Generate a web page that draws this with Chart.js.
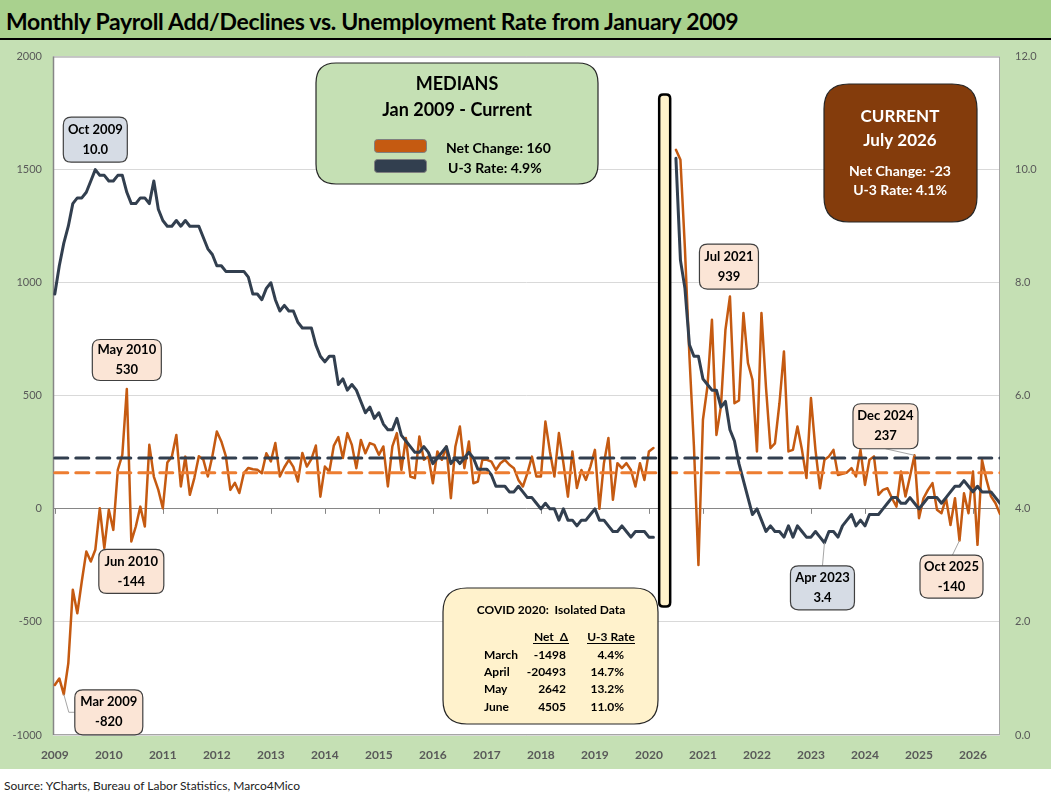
<!DOCTYPE html>
<html>
<head>
<meta charset="utf-8">
<title>Monthly Payroll Add/Declines vs. Unemployment Rate</title>
<script src="https://cdn.jsdelivr.net/npm/chart.js@4.4.1/dist/chart.umd.min.js"></script>
<style>
  body { margin: 0; width: 1051px; height: 798px; background: #fff; overflow: hidden; font-family: Lato, sans-serif; }
  #title { height: 38px; background: #a9d18e; border-bottom: 2px solid #000; font: bold 23px Lato, sans-serif; letter-spacing: -0.3px; line-height: 42px; padding-left: 6px; color: #000; white-space: nowrap; }
  #wrap { position: relative; width: 1051px; height: 729px; background: #c5e0b4; overflow: hidden; }
  #payrollChart { position: absolute; left: 0; top: -5px; }
  #source { font: 12px Lato, sans-serif; padding: 9px 0 0 4px; color: #222; }
</style>
</head>
<body>
<div id="title">Monthly Payroll Add/Declines vs. Unemployment Rate from January 2009</div>
<div id="wrap"><canvas id="payrollChart" width="1051" height="734"></canvas></div>
<div id="source">Source: YCharts, Bureau of Labor Statistics, Marco4Mico</div>

<script>
// month index 0 = Jan 2009; Mar-Jun 2020 left out (isolated in the COVID table)
const MONTHS = ['Jan', 'Feb', 'Mar', 'Apr', 'May', 'Jun', 'Jul', 'Aug', 'Sep', 'Oct', 'Nov', 'Dec'];
const START_YEAR = 2009;
const YEAR_LABELS = ['2009', '2010', '2011', '2012', '2013', '2014', '2015', '2016', '2017',
                     '2018', '2019', '2020', '2021', '2022', '2023', '2024', '2025', '2026'];

// monthly payroll change (thousands), left axis
const NET_CHANGE = [
  -779, -750, -820, -683, -358, -462, -320, -189, -233, -181, 3, -174,   // 2009
  -4, -93, 173, 239, 530, -144, -78, 10, -78, 283, 143, 84,              // 2010
  3, 205, 231, 327, 99, 231, 62, 136, 233, 218, 143, 233,                // 2011
  342, 298, 233, 84, 115, 70, 158, 181, 175, 173, 158, 246,              // 2012
  210, 291, 143, 184, 217, 186, 121, 247, 187, 220, 280, 54,             // 2013
  187, 165, 280, 317, 225, 335, 283, 180, 305, 246, 291, 283,            // 2014
  239, 276, 99, 276, 335, 172, 313, 143, 136, 320, 217, 231,             // 2015
  113, 254, 217, 276, 47, 276, 364, 180, 298, 113, 121, 217,             // 2016
  217, 209, 172, 202, 217, 195, 180, 128, 99, 158, 231, 143,             // 2017
  143, 386, 254, 143, 335, 202, 54, 254, 92, 172, 128, 187,              // 2018
  261, 0, 202, 313, 40, 202, 180, 202, 172, 99, 202, 128,                // 2019
  254, 269, null, null, null, null, 1588, 1544, 1150, 674, 276, -248,    // 2020
  394, 541, 836, 327, 453, 792, 939, 467, 479, 866, 645, 571,            // 2021
  254, 866, 540, 268, 290, 467, 696, 254, 261, 364, 261, 136,            // 2022
  490, 261, 91, 217, 232, 261, 150, 155, 161, 180, 143, 261,             // 2023
  106, 217, 232, 62, 84, 91, 47, 10, 165, 55, 143, 237,                  // 2024
  -41, 47, 84, 114, -4, -19, 47, -71, 47, -140, 69, -19,                 // 2025
  165, -159, 217, 128, 55, 25, -23                                       // 2026
];

// U-3 unemployment rate (%), right axis
const U3_RATE = [
  7.8, 8.3, 8.7, 9.0, 9.4, 9.5, 9.5, 9.6, 9.8, 10.0, 9.9, 9.9,
  9.8, 9.8, 9.9, 9.9, 9.6, 9.4, 9.4, 9.5, 9.5, 9.4, 9.8, 9.3,
  9.1, 9.0, 9.0, 9.1, 9.0, 9.1, 9.0, 9.0, 9.0, 8.8, 8.6, 8.5,
  8.3, 8.3, 8.2, 8.2, 8.2, 8.2, 8.2, 8.1, 7.8, 7.8, 7.7, 7.9,
  8.0, 7.7, 7.5, 7.6, 7.5, 7.5, 7.3, 7.2, 7.2, 7.2, 6.9, 6.7,
  6.6, 6.7, 6.7, 6.2, 6.3, 6.1, 6.2, 6.1, 5.9, 5.7, 5.8, 5.6,
  5.7, 5.5, 5.4, 5.4, 5.6, 5.3, 5.2, 5.1, 5.0, 5.0, 5.1, 5.0,
  4.8, 4.9, 5.0, 5.1, 4.8, 4.9, 4.8, 4.9, 5.0, 4.9, 4.7, 4.7,
  4.7, 4.6, 4.4, 4.4, 4.4, 4.3, 4.3, 4.4, 4.3, 4.2, 4.2, 4.1,
  4.0, 4.1, 4.0, 4.0, 3.8, 4.0, 3.8, 3.8, 3.7, 3.8, 3.8, 3.9,
  4.0, 3.8, 3.8, 3.7, 3.6, 3.6, 3.7, 3.6, 3.5, 3.6, 3.6, 3.6,
  3.5, 3.5, null, null, null, null, 10.2, 8.4, 7.9, 6.9, 6.7, 6.7,
  6.3, 6.2, 6.1, 6.1, 5.8, 5.9, 5.4, 5.2, 4.8, 4.5, 4.2, 3.9,
  4.0, 3.8, 3.6, 3.7, 3.6, 3.6, 3.5, 3.7, 3.5, 3.7, 3.6, 3.5,
  3.5, 3.6, 3.5, 3.4, 3.6, 3.6, 3.5, 3.7, 3.8, 3.9, 3.7, 3.8,
  3.7, 3.9, 3.9, 3.9, 4.0, 4.1, 4.2, 4.2, 4.1, 4.1, 4.2, 4.1,
  4.0, 4.1, 4.2, 4.2, 4.2, 4.1, 4.2, 4.3, 4.4, 4.4, 4.5, 4.4,
  4.3, 4.4, 4.3, 4.3, 4.3, 4.2, 4.1
];

const NET_MEDIAN = 160;
const U3_MEDIAN = 4.9;

const LEFT_TICKS = [-1000, -500, 0, 500, 1000, 1500, 2000];
const RIGHT_TICKS = [0, 2, 4, 6, 8, 10, 12];

const COVID_MONTHS = ['March', 'April', 'May', 'June'];
const COVID_NET = [-1498, -20493, 2642, 4505];
const COVID_U3 = [4.4, 14.7, 13.2, 11.0];

const ORANGE = '#c55a11';
const NAVY = '#323f4f';
const AXIS_TEXT = '#595959';
const SHIFT_Y = 5; // canvas sits 5px above the green panel

function monthName(i) {
    return MONTHS[i % 12] + ' ' + (START_YEAR + Math.floor(i / 12));
}

function toPoints(arr) {
    return arr.map((v, i) => ({ x: i, y: v }));
}

const lastIdx = NET_CHANGE.length - 1;

// labelled points: which series, and where the box sits relative to the point
const CALLOUTS = [
    { idx: 9,   series: 'u3',  dx: 0,    dy: -30, w: 64, h: 45 },
    { idx: 16,  series: 'net', dx: 0,    dy: -29, w: 69, h: 41 },
    { idx: 17,  series: 'net', dx: 0,    dy: 30,  w: 65, h: 44 },
    { idx: 2,   series: 'net', dx: 45,   dy: 18,  w: 68, h: 45, leader: [[-40, 0], [-34, 0]] },
    { idx: 150, series: 'net', dx: -1,   dy: -30, w: 59, h: 45 },
    { idx: 191, series: 'net', dx: -29,  dy: -29, w: 65, h: 45, leader: [[0, 22.5]] },
    { idx: 171, series: 'u3',  dx: -2,   dy: 45,  w: 64, h: 44, leader: [[0, -22]] },
    { idx: 201, series: 'net', dx: -8,   dy: 36,  w: 63, h: 43, leader: [[1, -21.5]] }
];

function roundRect(c, x, y, w, h, r) {
    c.beginPath();
    c.moveTo(x + r, y);
    c.lineTo(x + w - r, y);
    c.quadraticCurveTo(x + w, y, x + w, y + r);
    c.lineTo(x + w, y + h - r);
    c.quadraticCurveTo(x + w, y + h, x + w - r, y + h);
    c.lineTo(x + r, y + h);
    c.quadraticCurveTo(x, y + h, x, y + h - r);
    c.lineTo(x, y + r);
    c.quadraticCurveTo(x, y, x + r, y);
    c.closePath();
}

function box(c, x, y, w, h, r, fill, stroke, lw) {
    roundRect(c, x, y, w, h, r);
    c.fillStyle = fill;
    c.fill();
    c.lineWidth = lw || 1;
    c.strokeStyle = stroke;
    c.stroke();
}

function text(c, s, x, y, font, color, align) {
    c.font = font;
    c.fillStyle = color;
    c.textAlign = align || 'center';
    c.textBaseline = 'middle';
    c.fillText(s, x, y);
}

// white plot area, frame and small year ticks on the zero line
const plotFrame = {
    id: 'plotFrame',
    beforeDraw(chart) {
        const a = chart.chartArea, c = chart.ctx;
        c.save();
        c.fillStyle = '#ffffff';
        c.fillRect(a.left, a.top, a.right - a.left, a.bottom - a.top);
        c.restore();
    },
    beforeDatasetsDraw(chart) {
        const a = chart.chartArea, c = chart.ctx;
        const x = chart.scales.x, y0 = chart.scales.y.getPixelForValue(0);
        c.save();
        c.strokeStyle = '#868686';
        c.lineWidth = 1;
        YEAR_LABELS.forEach((_, i) => {
            const px = Math.round(x.getPixelForValue(i * 12)) + 0.5;
            c.beginPath();
            c.moveTo(px, y0);
            c.lineTo(px, y0 + 5);
            c.stroke();
        });
        c.strokeStyle = '#a6a6a6';
        c.strokeRect(a.left + 0.5, a.top + 0.5, a.right - a.left - 1, a.bottom - a.top - 1);
        c.strokeStyle = '#868686';
        c.lineWidth = 1.5;
        c.beginPath();
        c.moveTo(a.left + 0.5, a.top);
        c.lineTo(a.left + 0.5, a.bottom);
        c.stroke();
        c.restore();
    }
};

// boxes, covid band and callouts
const overlays = {
    id: 'overlays',
    afterDraw(chart) {
        const c = chart.ctx, a = chart.chartArea;
        const x = chart.scales.x, y = chart.scales.y, y2 = chart.scales.y2;
        c.save();

        // covid gap band
        const gap = [];
        NET_CHANGE.forEach((v, i) => { if (v === null) gap.push(i); });
        const bx = x.getPixelForValue((gap[0] + gap[gap.length - 1]) / 2);
        box(c, bx - 5.5, a.top + 38, 11, 512, 4, '#fff2cc', '#000', 2.5);

        // callouts
        CALLOUTS.forEach(cl => {
            const isU3 = cl.series === 'u3';
            const val = isU3 ? U3_RATE[cl.idx] : NET_CHANGE[cl.idx];
            const px = x.getPixelForValue(cl.idx);
            const py = isU3 ? y2.getPixelForValue(val) : y.getPixelForValue(val);
            const cx = px + cl.dx, cy = py + cl.dy;
            if (cl.leader) {
                c.strokeStyle = '#a6a6a6';
                c.lineWidth = 1;
                c.beginPath();
                c.moveTo(px, py);
                cl.leader.forEach(p => c.lineTo(cx + p[0], cy + p[1]));
                c.stroke();
            }
            box(c, cx - cl.w / 2, cy - cl.h / 2, cl.w, cl.h, 8,
                isU3 ? '#d6dce5' : '#fbe5d6', '#404040', 1.2);
            text(c, monthName(cl.idx), cx, cy - 10, 'bold 13px Lato', '#000');
            text(c, isU3 ? val.toFixed(1) : String(val), cx, cy + 10, 'bold 13px Lato', '#000');
        });

        // fixed boxes are placed in panel coordinates
        c.translate(0, SHIFT_Y);

        // medians box
        box(c, 316, 23, 282, 121, 20, '#c5e0b4', '#262626', 1.2);
        text(c, 'MEDIANS', 457, 44, 'bold 18px Lato', '#000');
        text(c, 'Jan 2009 - Current', 457, 70, 'bold 18px Lato', '#000');
        box(c, 374.5, 99.5, 52, 13, 3, ORANGE, '#7f7f7f', 1);
        box(c, 374.5, 119.5, 52, 13, 3, NAVY, '#7f7f7f', 1);
        text(c, 'Net Change: ' + NET_MEDIAN, 446, 108, 'bold 14px Lato', '#000', 'left');
        text(c, 'U-3 Rate: ' + U3_MEDIAN.toFixed(1) + '%', 448, 128, 'bold 14px Lato', '#000', 'left');

        // current box
        box(c, 824, 44, 153, 138, 25, '#843c0c', '#262626', 1.2);
        text(c, 'CURRENT', 900, 77, 'bold 17px Lato', '#fff');
        text(c, 'July 2026', 900, 101, 'bold 17px Lato', '#fff');
        text(c, 'Net Change: ' + NET_CHANGE[lastIdx], 900, 131, 'bold 14px Lato', '#fff');
        text(c, 'U-3 Rate: ' + U3_RATE[lastIdx].toFixed(1) + '%', 900, 150, 'bold 14px Lato', '#fff');

        // covid table
        box(c, 443, 548, 215, 136, 24, '#fff2cc', '#262626', 1.2);
        text(c, 'COVID 2020:  Isolated Data', 551, 570, 'bold 12px Lato', '#000');
        const hf = 'bold 12px Lato';
        text(c, 'Net  \u0394', 551, 597, hf, '#000');
        text(c, 'U-3 Rate', 611, 597, hf, '#000');
        c.strokeStyle = '#000';
        c.lineWidth = 1;
        c.beginPath();
        c.moveTo(533, 603.5); c.lineTo(569, 603.5);
        c.moveTo(587, 603.5); c.lineTo(635, 603.5);
        c.stroke();
        COVID_MONTHS.forEach((m, i) => {
            const ry = 615 + i * 17.3;
            text(c, m, 484, ry, hf, '#000', 'left');
            text(c, String(COVID_NET[i]), 566, ry, hf, '#000', 'right');
            text(c, COVID_U3[i].toFixed(1) + '%', 624, ry, hf, '#000', 'right');
        });

        c.restore();
    }
};

function createPayrollChart() {
    const ctx = document.getElementById('payrollChart').getContext('2d');
    const chart = new Chart(ctx, {
        type: 'line',
        data: {
            datasets: [
                {
                    label: 'U-3 Median',
                    data: [{ x: 0, y: U3_MEDIAN }, { x: lastIdx, y: U3_MEDIAN }],
                    yAxisID: 'y2',
                    borderColor: NAVY,
                    borderWidth: 3,
                    borderDash: [13, 8],
                    order: 0
                },
                {
                    label: 'Net Change Median',
                    data: [{ x: 0, y: NET_MEDIAN }, { x: lastIdx, y: NET_MEDIAN }],
                    yAxisID: 'y',
                    borderColor: '#ed7d31',
                    borderWidth: 3,
                    borderDash: [13, 8],
                    order: 1
                },
                {
                    label: 'U-3 Rate',
                    data: toPoints(U3_RATE),
                    yAxisID: 'y2',
                    borderColor: NAVY,
                    borderWidth: 3,
                    order: 2
                },
                {
                    label: 'Net Change',
                    data: toPoints(NET_CHANGE),
                    yAxisID: 'y',
                    borderColor: ORANGE,
                    borderWidth: 2.5,
                    order: 3
                }
            ]
        },
        options: {
            responsive: false,
            animation: false,
            spanGaps: false,
            elements: {
                point: { radius: 0 },
                line: { tension: 0, borderJoinStyle: 'round', borderCapStyle: 'round', fill: false }
            },
            layout: { padding: { top: 12, bottom: 4, left: 0, right: 0 } },
            plugins: {
                legend: { display: false },
                tooltip: { enabled: false }
            },
            scales: {
                x: {
                    type: 'linear',
                    min: -0.4,
                    max: lastIdx,
                    afterBuildTicks: s => { s.ticks = YEAR_LABELS.map((_, i) => ({ value: i * 12 })); },
                    afterFit: s => { s.height = 30; },
                    ticks: {
                        callback: v => YEAR_LABELS[Math.round(v / 12)],
                        color: AXIS_TEXT,
                        font: { family: 'Lato', size: 12, weight: 'bold' },
                        padding: 5,
                        autoSkip: false,
                        maxRotation: 0
                    },
                    grid: { display: false },
                    border: { display: false }
                },
                y: {
                    position: 'left',
                    min: LEFT_TICKS[0],
                    max: LEFT_TICKS[LEFT_TICKS.length - 1],
                    afterFit: s => { s.width = 53; },
                    ticks: {
                        stepSize: LEFT_TICKS[1] - LEFT_TICKS[0],
                        callback: v => String(v),
                        color: AXIS_TEXT,
                        font: { family: 'Lato', size: 11 },
                        padding: 11
                    },
                    grid: {
                        color: c => c.tick.value === 0 ? '#868686' : '#d9d9d9',
                        drawTicks: false
                    },
                    border: { display: false }
                },
                y2: {
                    position: 'right',
                    min: RIGHT_TICKS[0],
                    max: RIGHT_TICKS[RIGHT_TICKS.length - 1],
                    afterFit: s => { s.width = 51; },
                    ticks: {
                        stepSize: RIGHT_TICKS[1] - RIGHT_TICKS[0],
                        callback: v => v.toFixed(1),
                        color: AXIS_TEXT,
                        font: { family: 'Lato', size: 11 },
                        padding: 15
                    },
                    grid: { display: false, drawTicks: false },
                    border: { display: false }
                }
            }
        },
        plugins: [plotFrame, overlays]
    });
}

window.onload = createPayrollChart;
</script>
</body>
</html>
